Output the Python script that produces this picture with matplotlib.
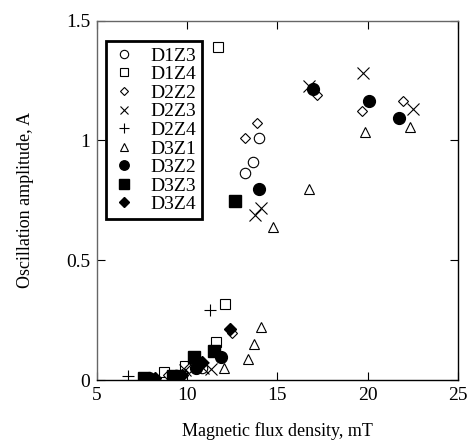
import matplotlib
matplotlib.use('Agg')
from matplotlib import pyplot as plt

plt.rcParams['font.family'] = ['Liberation Serif', 'DejaVu Serif']

# data (B in mT, amplitude in A)
d1z3_x = [7.8, 9.4, 10.8, 13.2, 13.63, 13.98]
d1z3_y = [0.01, 0.02, 0.05, 0.863, 0.912, 1.009]
d1z4_x = [8.7, 9.9, 11.6, 12.1, 11.7]
d1z4_y = [0.035, 0.06, 0.16, 0.317, 1.392]
d2z2_x = [8.95, 10.1, 12.5, 13.21, 13.89, 17.22, 19.68, 21.99]
d2z2_y = [0.02, 0.05, 0.195, 1.009, 1.072, 1.19, 1.123, 1.165]
d2z3_x = [9.9, 10.9, 11.3, 13.76, 14.1, 16.78, 19.77, 22.54]
d2z3_y = [0.04, 0.05, 0.045, 0.689, 0.717, 1.228, 1.28, 1.131]
d2z4_x = [6.74, 11.27]
d2z4_y = [0.015, 0.292]
d3z1_x = [12.06, 13.36, 13.73, 14.1, 14.78, 16.76, 19.88, 22.36]
d3z1_y = [0.05, 0.086, 0.149, 0.223, 0.64, 0.797, 1.037, 1.058]
d3z2_x = [7.9, 9.4, 10.5, 11.9, 14.0, 17.0, 20.1, 21.77]
d3z2_y = [0.01, 0.015, 0.05, 0.097, 0.797, 1.215, 1.165, 1.095]
d3z3_x = [7.6, 9.2, 10.4, 11.5, 12.65]
d3z3_y = [0.01, 0.015, 0.097, 0.12, 0.749]
d3z4_x = [8.2, 9.7, 10.8, 12.38]
d3z4_y = [0.01, 0.02, 0.075, 0.213]

fig = plt.figure(figsize=(4.67, 4.43), dpi=100)
ax = fig.add_axes([0.2077, 0.1422, 0.7724, 0.8111])

ax.plot(d1z3_x, d1z3_y, ls='none', marker='o', ms=7.5, mfc='white', mec='black', mew=0.8, label='D1Z3')
ax.plot(d1z4_x, d1z4_y, ls='none', marker='s', ms=7.5, mfc='white', mec='black', mew=0.8, label='D1Z4')
ax.plot(d2z2_x, d2z2_y, ls='none', marker='D', ms=5.5, mfc='white', mec='black', mew=0.8, label='D2Z2')
ax.plot(d2z3_x, d2z3_y, ls='none', marker='x', ms=8, mec='black', mew=0.8, label='D2Z3')
ax.plot(d2z4_x, d2z4_y, ls='none', marker='+', ms=9, mec='black', mew=0.8, label='D2Z4')
ax.plot(d3z1_x, d3z1_y, ls='none', marker='^', ms=7.5, mfc='white', mec='black', mew=0.8, label='D3Z1')
ax.plot(d3z2_x, d3z2_y, ls='none', marker='o', ms=8.5, mfc='black', mec='black', label='D3Z2')
ax.plot(d3z3_x, d3z3_y, ls='none', marker='s', ms=8.5, mfc='black', mec='black', label='D3Z3')
ax.plot(d3z4_x, d3z4_y, ls='none', marker='D', ms=6, mfc='black', mec='black', label='D3Z4')

ax.set_xlim(5, 25)
ax.set_ylim(0, 1.5)
ax.set_xticks([5, 10, 15, 20, 25])
ax.set_yticks([0, 0.5, 1, 1.5])
ax.set_yticklabels(['0', '0.5', '1', '1.5'])
ax.tick_params(direction='in', length=6, width=0.8, top=True, right=True, labelsize=14, pad=5)
for s in ['left', 'top']:
    ax.spines[s].set_color('#666666')
for s in ax.spines.values():
    s.set_linewidth(1.0)

ax.set_xlabel('Magnetic flux density, mT', fontsize=13, labelpad=13)
ax.set_ylabel('Oscillation amplitude, A', fontsize=13, labelpad=23)

leg = ax.legend(loc='upper left', bbox_to_anchor=(0.025, 0.943), borderaxespad=0,
                fontsize=14, labelspacing=0.05, handlelength=1.2, handletextpad=0.8,
                borderpad=0.3, fancybox=False, framealpha=1, markerscale=0.8)
leg.get_frame().set_edgecolor('black')
leg.get_frame().set_linewidth(2.0)

fig.savefig('out.png', dpi=100)
